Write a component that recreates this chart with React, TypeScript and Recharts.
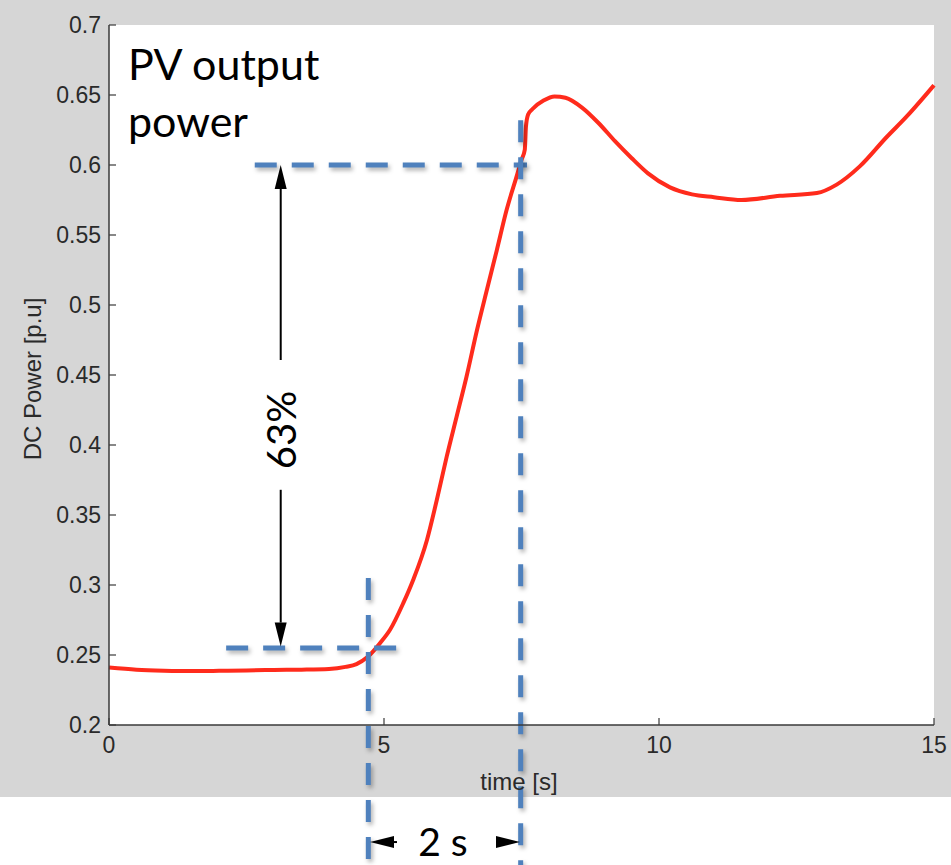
import React from "react"
import { LineChart, Line, XAxis, YAxis, CartesianGrid, ReferenceLine } from "recharts"

// PV response
const time = [
  0, 0.5, 1, 1.5, 2, 2.5, 3, 3.5, 4, 4.3, 4.5, 4.7, 4.93, 5.11, 5.35, 5.53, 5.78, 5.96, 6.14,
  6.32, 6.5, 6.69, 6.87, 7.05, 7.23, 7.41, 7.5, 7.56, 7.58, 7.62, 7.7, 7.9, 8.1, 8.3, 8.6, 8.9,
  9.2, 9.5, 9.8, 10.2, 10.6, 11, 11.5, 12.2, 12.87, 13.23, 13.65, 14.14, 14.5, 14.87, 15,
]
const power = [
  0.241, 0.2395, 0.2388, 0.2385, 0.2387, 0.239, 0.2393, 0.2395, 0.24, 0.2415, 0.2435, 0.2485,
  0.2586, 0.268, 0.287, 0.3036, 0.332, 0.3607, 0.3917, 0.4202, 0.4488, 0.482, 0.5107, 0.539,
  0.568, 0.5917, 0.6036, 0.611, 0.627, 0.636, 0.64, 0.646, 0.649, 0.648, 0.641, 0.63, 0.617,
  0.605, 0.594, 0.584, 0.579, 0.577, 0.575, 0.578, 0.58, 0.586, 0.599, 0.62, 0.6345, 0.651, 0.657,
]
const xTicks = [0, 5, 10, 15]
const yTicks = [0.2, 0.25, 0.3, 0.35, 0.4, 0.45, 0.5, 0.55, 0.6, 0.65, 0.7]

// annotation guides, in data units: [x1, y1, x2, y2]
const dashedGuides = [
  [2.65, 0.6, 7.6, 0.6],
  [2.13, 0.255, 5.29, 0.255],
  [7.485, 0.632, 7.485, 0.1],
  [4.715, 0.305, 4.715, 0.1],
]
const arrows = [
  [3.122, 0.4607, 3.122, 0.6],
  [3.122, 0.368, 3.122, 0.256],
  [5.236, 0.1164, 4.745, 0.1164],
  [7.055, 0.1164, 7.473, 0.1164],
]

const data = time.map((t, i) => ({ t, p: power[i] }))

const tickFont = { fill: "#2a2a2a", fontSize: 23, fontFamily: "Liberation Sans, Arial, sans-serif" }
const axisColor = "#3a3a3a"

const DashShape = (props: any) => (
  <line
    x1={props.x1}
    y1={props.y1}
    x2={props.x2}
    y2={props.y2}
    stroke="#4f81bd"
    strokeWidth={5}
    strokeDasharray="22 15"
    style={{ filter: "drop-shadow(2px 3px 2px rgba(0,0,0,0.3))" }}
  />
)

const ArrowShape = (props: any) => {
  const { x1, y1, x2, y2 } = props
  const dx = x2 - x1
  const dy = y2 - y1
  const len = Math.sqrt(dx * dx + dy * dy) || 1
  const ux = dx / len
  const uy = dy / len
  const head = 24
  const half = 6
  const bx = x2 - ux * head
  const by = y2 - uy * head
  const pts = `${x2},${y2} ${bx - uy * half},${by + ux * half} ${bx + uy * half},${by - ux * half}`
  return (
    <g>
      <line x1={x1} y1={y1} x2={bx} y2={by} stroke="#000" strokeWidth={2} />
      <polygon points={pts} fill="#000" />
    </g>
  )
}

const Note = ({ x, y, size, rotate, family, children }: any) => (
  <div
    style={{
      position: "absolute",
      left: x,
      top: y,
      transform: `translate(-50%, -50%)${rotate ? " rotate(-90deg)" : ""}`,
      fontSize: size,
      fontFamily: family,
      lineHeight: 0.8,
      whiteSpace: "nowrap",
      color: "#000",
    }}
  >
    {children}
  </div>
)

export default function App() {
  return (
    <div style={{ position: "absolute", left: 0, top: 0, width: 951, height: 865, background: "#fff", overflow: "hidden" }}>
      <div style={{ position: "absolute", left: 0, top: 0, width: 951, height: 797, background: "#d6d6d6" }} />
      <div style={{ position: "absolute", left: 0, top: 0 }}>
        <LineChart width={951} height={865} data={data} margin={{ top: 25, right: 17, left: 49, bottom: 110 }}>
          <CartesianGrid fill="#fff" horizontal={false} vertical={false} />
          <XAxis
            dataKey="t"
            type="number"
            domain={[0, 15]}
            ticks={xTicks}
            interval={0}
            height={30}
            tickSize={-7}
            tickMargin={19}
            tick={tickFont}
            axisLine={{ stroke: axisColor, strokeWidth: 1.5 }}
            tickLine={{ stroke: axisColor, strokeWidth: 1.2 }}
          />
          <XAxis
            xAxisId="top"
            orientation="top"
            dataKey="t"
            type="number"
            domain={[0, 15]}
            allowDataOverflow
            ticks={xTicks}
            interval={0}
            height={0}
            tickSize={-7}
            tick={false}
            axisLine={{ stroke: axisColor, strokeWidth: 1.5 }}
            tickLine={{ stroke: axisColor, strokeWidth: 1.2 }}
          />
          <YAxis
            dataKey="p"
            type="number"
            domain={[0.2, 0.7]}
            ticks={yTicks}
            interval={0}
            width={60}
            tickSize={-7}
            tickMargin={15}
            tick={tickFont}
            tickFormatter={(v: number) => String(Number(v.toFixed(2)))}
            axisLine={{ stroke: axisColor, strokeWidth: 1.5 }}
            tickLine={{ stroke: axisColor, strokeWidth: 1.2 }}
          />
          <YAxis
            yAxisId="right"
            orientation="right"
            dataKey="p"
            type="number"
            domain={[0.2, 0.7]}
            allowDataOverflow
            ticks={yTicks}
            interval={0}
            width={0}
            tickSize={-7}
            tick={false}
            axisLine={{ stroke: axisColor, strokeWidth: 1.5 }}
            tickLine={{ stroke: axisColor, strokeWidth: 1.2 }}
          />
          <Line
            dataKey="p"
            type="monotone"
            stroke="#ff2b1c"
            strokeWidth={4}
            dot={false}
            isAnimationActive={false}
          />
          {dashedGuides.map(([x1, y1, x2, y2], i) => (
            <ReferenceLine
              key={`g${i}`}
              segment={[{ x: x1, y: y1 }, { x: x2, y: y2 }]}
              ifOverflow="visible"
              shape={DashShape}
            />
          ))}
          {arrows.map(([x1, y1, x2, y2], i) => (
            <ReferenceLine
              key={`a${i}`}
              segment={[{ x: x1, y: y1 }, { x: x2, y: y2 }]}
              ifOverflow="visible"
              shape={ArrowShape}
            />
          ))}
        </LineChart>
      </div>
      <div
        style={{
          position: "absolute",
          left: 128,
          top: 35,
          fontFamily: "Lato, sans-serif",
          fontSize: 43,
          lineHeight: "57px",
          color: "#000",
        }}
      >
        PV output
        <br />
        power
      </div>
      <Note x={281} y={430} size={40} rotate family="Lato, sans-serif">63%</Note>
      <Note x={443} y={842} size={39} family="Lato, sans-serif">2 s</Note>
      <Note x={33} y={379} size={24} rotate family="Liberation Sans, Arial, sans-serif">
        <span style={{ color: "#2a2a2a" }}>DC Power [p.u]</span>
      </Note>
      <Note x={519} y={782} size={24} family="Liberation Sans, Arial, sans-serif">
        <span style={{ color: "#2a2a2a" }}>time [s]</span>
      </Note>
    </div>
  )
}
